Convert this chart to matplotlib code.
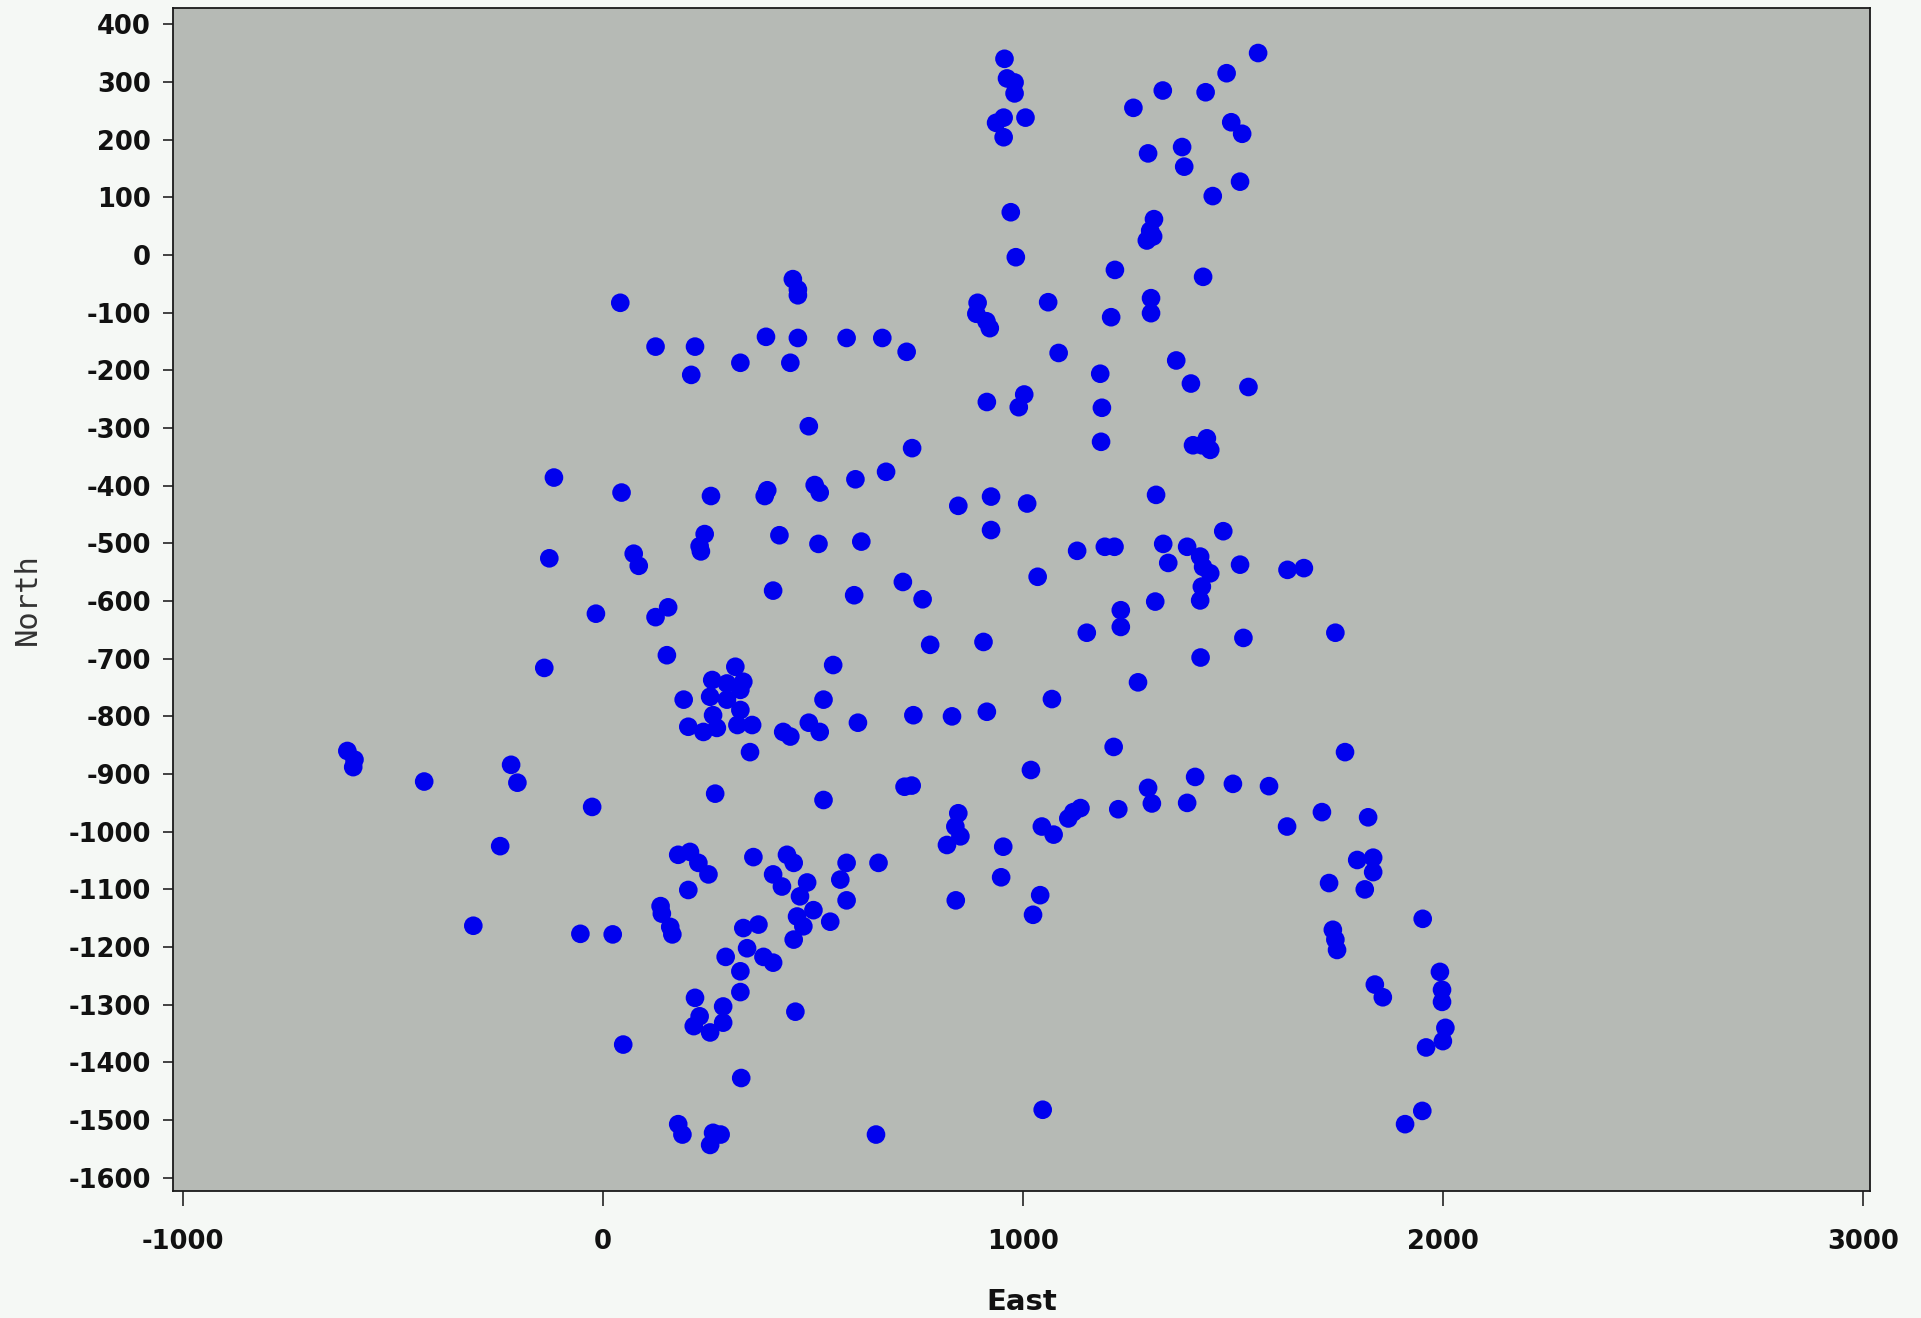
import matplotlib
matplotlib.use("Agg")
import matplotlib.pyplot as plt

east = [
    956, 962, 980, 980, 1006, 954, 936, 954, 971, 983,
    1263, 1333, 1435, 1485, 1560, 1496, 1522, 1298, 1379, 1384, 1517, 1452, 1312, 1303, 1295, 1310,
    1219, 1429, 1060, 1210, 1305, 1305,
    41, 125, 219, 210, 327, 388, 446, 452, 464, 464, 464, 580, 665, 723, 490,
    892, 889, 913, 921, 1085, 1184, 1365, 1400, 1537,
    914, 990, 1003, 1188, 736, 1186, 1405, 1438, 1446, 1426,
    -117, 44, 257, 391, 385, 504, 516, 601, 674,
    846, 924, 1010, 924, 1317, 1477,
    -128, 73, 85, 242, 230, 233, 420, 513, 615,
    1129, 1195, 1218, 1334, 1346, 1391,
    1422, 1429, 1446, 1426, 1422, 1517, 1630, 1669,
    1035, 714, 761, 1315, 1233, 1233,
    405, 598, -17, 125, 155,
    1152, 1525, 1744, 779, 906, 1423, 1274, 1069, 739, 831, 914,
    152, -140, 315, 548,
    260, 295, 334, 192, 255, 295, 327, 327, 262, 203, 239, 271, 320, 355, 350,
    525, 429, 446, 490, 516, 607,
    -609, -592, -595, -426, -219, -204, -26, 267, 525,
    1216, 1767, 1019, 718, 735, 1410, 1500, 1586, 1298, 1307, 1391, 1712, 1629, 1227, 1120, 1137, 1108,
    1045, 1073, 846, 839, 851, 819, 953, 1822,
    -245, -309, -54, 23,
    179, 207, 227, 251, 203, 137, 140, 160, 165, 358,
    438, 405, 454, 426, 486, 469, 501, 462, 477, 541, 454, 580, 565, 580, 656,
    334, 370, 343, 292, 327, 382, 405,
    948, 1041, 1024, 840,
    1796, 1834, 1834, 1729, 1814, 1952, 1738, 1744, 1748,
    327, 219, 286, 216, 255, 286, 230, 458, 48, 329, 179, 189, 262, 280, 255, 650, 1047,
    1993, 1998, 1998, 1838, 1857, 2006, 2000, 1960, 1951, 1910,
]

north = [
    340, 306, 299, 280, 238, 238, 229, 204, 74, -4,
    255, 285, 282, 315, 350, 230, 210, 176, 187, 153, 127, 102, 62, 42, 25, 32,
    -26, -38, -82, -108, -75, -101,
    -83, -159, -159, -208, -187, -142, -187, -42, -60, -70, -144, -144, -144, -168, -297,
    -83, -102, -115, -127, -170, -206, -183, -223, -229,
    -255, -264, -242, -265, -335, -324, -330, -318, -338, -330,
    -386, -412, -418, -408, -418, -399, -412, -389, -376,
    -435, -419, -431, -477, -416, -479,
    -526, -518, -539, -484, -505, -514, -486, -501, -497,
    -513, -506, -506, -501, -534, -506,
    -523, -541, -552, -575, -599, -537, -546, -543,
    -558, -567, -597, -601, -616, -645,
    -582, -590, -622, -628, -611,
    -655, -664, -655, -676, -671, -698, -741, -770, -798, -800, -792,
    -694, -716, -714, -711,
    -737, -743, -740, -771, -766, -771, -754, -789, -798, -818, -827, -820, -815, -815, -862,
    -771, -827, -835, -811, -827, -811,
    -860, -875, -888, -913, -884, -915, -957, -934, -945,
    -853, -862, -893, -922, -920, -905, -917, -921, -924, -951, -950, -966, -991, -961, -966, -959, -977,
    -991, -1005, -968, -991, -1008, -1023, -1026, -975,
    -1025, -1163, -1177, -1178,
    -1040, -1035, -1054, -1074, -1101, -1129, -1142, -1165, -1178, -1044,
    -1040, -1074, -1054, -1095, -1088, -1112, -1136, -1147, -1164, -1156, -1187, -1054, -1083, -1119, -1054,
    -1167, -1161, -1202, -1217, -1242, -1217, -1227,
    -1079, -1110, -1144, -1119,
    -1049, -1045, -1070, -1089, -1100, -1151, -1170, -1187, -1205,
    -1278, -1288, -1303, -1337, -1348, -1331, -1320, -1312, -1369, -1427, -1507, -1525, -1522, -1525, -1543, -1525, -1482,
    -1243, -1274, -1295, -1265, -1287, -1340, -1363, -1374, -1484, -1507,
]

x_ticks = [-1000, 0, 1000, 2000, 3000]
y_ticks = [400, 300, 200, 100, 0, -100, -200, -300, -400, -500, -600, -700, -800,
           -900, -1000, -1100, -1200, -1300, -1400, -1500, -1600]

fig = plt.figure(figsize=(19.21, 13.18), dpi=100, facecolor="#f5f8f5")
ax = fig.add_axes([0.0901, 0.0963, 0.8833, 0.8976])
ax.set_facecolor("#b6bab5")

ax.scatter(east, north, s=180, c="#0000ee", edgecolors="none", zorder=3)

ax.set_xlim(-1024, 3017)
ax.set_ylim(-1623, 428)
ax.set_xticks(x_ticks)
ax.set_yticks(y_ticks)
ax.set_xticklabels([str(v) for v in x_ticks])
ax.set_yticklabels([str(v) for v in y_ticks])

for sp in ax.spines.values():
    sp.set_color("#1a1a1a")
    sp.set_linewidth(1.3)

ax.tick_params(axis="x", direction="out", length=11, width=1.1, pad=16,
               labelsize=18.5, colors="#111111")
ax.tick_params(axis="y", direction="out", length=7, width=1.1, pad=9,
               labelsize=18.5, colors="#111111")
for lab in ax.get_xticklabels() + ax.get_yticklabels():
    lab.set_fontweight("bold")
    lab.set_family("DejaVu Sans")

ax.set_xlabel("East", fontsize=21, fontweight="bold", color="#111111")
ax.xaxis.set_label_coords(0.5, -0.094)
ax.xaxis.label.set_va("center")

ax.set_ylabel("North", fontsize=22, family="DejaVu Sans Mono", color="#333333")
ax.yaxis.set_label_coords(-0.086, 0.5)
ax.yaxis.label.set_ha("center")
ax.yaxis.label.set_va("center")

fig.savefig("out.png", dpi=100, facecolor=fig.get_facecolor())
